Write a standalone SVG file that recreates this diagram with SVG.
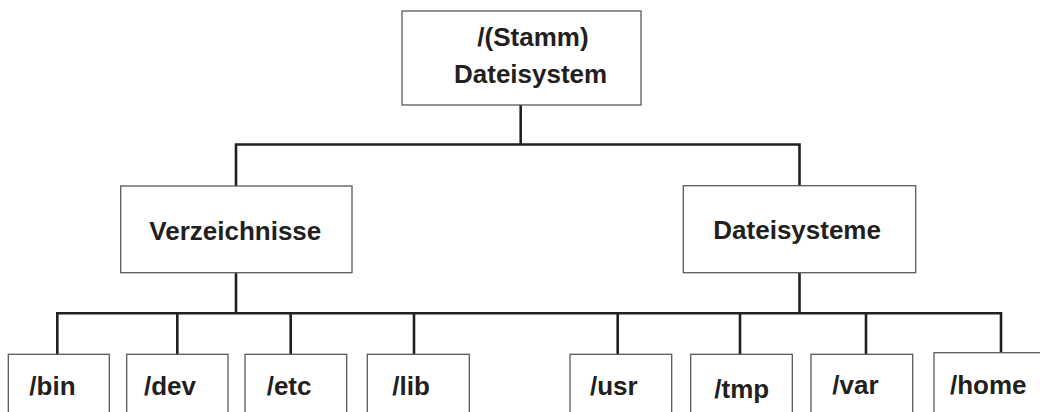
<svg xmlns="http://www.w3.org/2000/svg" width="1040" height="412" viewBox="0 0 1040 412">
<style>
.box{fill:#fff;stroke:#5a5a5a;stroke-width:1.3}
.lbl{font-family:"Liberation Sans",Arial,sans-serif;font-weight:bold;font-size:26px;fill:#231f20}
.con{fill:none;stroke:#231f20;stroke-width:2.6;stroke-linejoin:miter}
</style>
<rect width="1040" height="412" fill="#fff"/>
<g id="connectors">
<path class="con" d="M520.7 105V144.5M236 186V144.5H799.5V186"/>
<path class="con" d="M236 272.7V313.3M799.5 272.7V313.3"/>
<path class="con" d="M57.3 354.5V313.3H1001V353"/>
<path class="con" d="M177.3 313.3V354.5M290.7 313.3V354.5M414 313.3V354.5M617.7 313.3V354.5M740 313.3V354.5M866 313.3V354.5"/>
</g>
<g id="root"><rect class="box" x="402" y="11" width="239" height="94"/>
<text class="lbl" x="477.3" y="46">/(Stamm)</text>
<text class="lbl" x="454" y="82.7">Dateisystem</text></g>
<g id="verzeichnisse"><rect class="box" x="120.7" y="186" width="231.3" height="86.7"/>
<text class="lbl" x="149.3" y="240">Verzeichnisse</text></g>
<g id="dateisysteme"><rect class="box" x="683.3" y="185.7" width="232.4" height="87"/>
<text class="lbl" x="713.3" y="238.8">Dateisysteme</text></g>
<g id="bin"><rect class="box" x="8.3" y="354.3" width="101" height="70"/><text class="lbl" x="29.3" y="395">/bin</text></g>
<g id="dev"><rect class="box" x="126.7" y="354.3" width="101.3" height="70"/><text class="lbl" x="144" y="395">/dev</text></g>
<g id="etc"><rect class="box" x="245" y="354.3" width="101.7" height="70"/><text class="lbl" x="266.7" y="395">/etc</text></g>
<g id="lib"><rect class="box" x="367.3" y="354.3" width="102" height="70"/><text class="lbl" x="392.3" y="395">/lib</text></g>
<g id="usr"><rect class="box" x="570" y="354.3" width="101.7" height="70"/><text class="lbl" x="590" y="395">/usr</text></g>
<g id="tmp"><rect class="box" x="690.7" y="354.3" width="101.6" height="70"/><text class="lbl" x="714.3" y="398">/tmp</text></g>
<g id="var"><rect class="box" x="811" y="354.3" width="101.7" height="70"/><text class="lbl" x="832.3" y="394">/var</text></g>
<g id="home"><rect class="box" x="934" y="352.7" width="120" height="70"/><text class="lbl" x="950" y="394">/home</text></g>
</svg>
